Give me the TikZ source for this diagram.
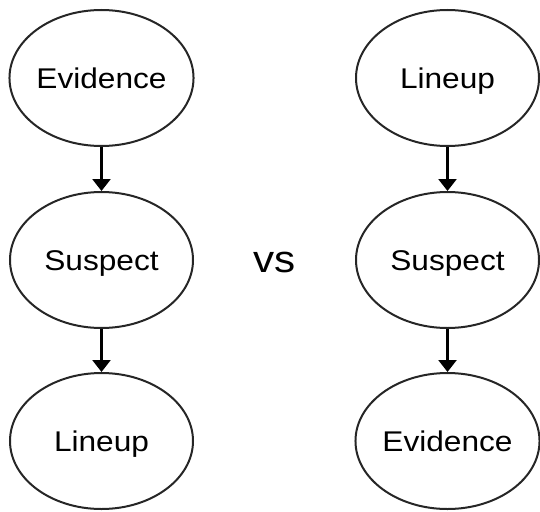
\documentclass[tikz,border=0pt]{standalone}
\usepackage{fontspec}
\setmainfont{Liberation Sans}[FakeStretch=1.11]
\usetikzlibrary{shapes.geometric,arrows.meta}
\begin{document}
\begin{tikzpicture}[x=1pt,y=-1pt,
  stage/.style={ellipse,draw=black!85,line width=2pt,minimum width=183pt,minimum height=136pt,inner sep=0pt,
    text height=20.5pt,text depth=0pt,font=\fontsize{28.5}{34}\selectfont},
  flow/.style={line width=2.5pt,-{Triangle[width=18pt,length=12pt]}}]
  \useasboundingbox (0,0) rectangle (540,511);
  % order used by the first procedure
  \node[stage] (e1) at (101.5,78)  {Evidence};
  \node[stage] (s1) at (101.5,260) {Suspect};
  \node[stage] (l1) at (101.5,441) {Lineup};
  % order used by the second procedure
  \node[stage] (l2) at (447.5,78)  {Lineup};
  \node[stage] (s2) at (447.5,260) {Suspect};
  \node[stage] (e2) at (447.5,441) {Evidence};
  \node[font=\fontsize{38}{44}\selectfont,inner sep=0pt,text height=20pt,text depth=0pt] (vs) at (274.5,262) {vs};
  \draw[flow] (e1) -- (s1);
  \draw[flow] (s1) -- (l1);
  \draw[flow] (l2) -- (s2);
  \draw[flow] (s2) -- (e2);
\end{tikzpicture}
\end{document}
